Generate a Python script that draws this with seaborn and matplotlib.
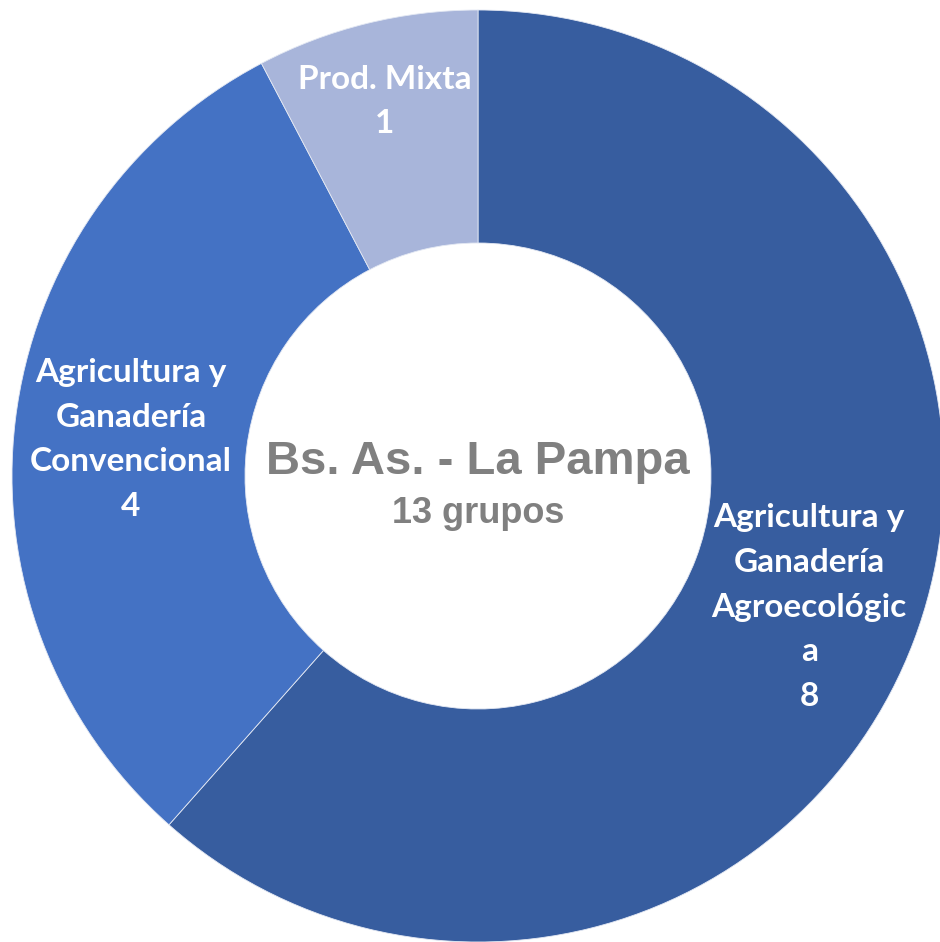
import numpy as np
import matplotlib
matplotlib.use("Agg")
import matplotlib.pyplot as plt
import seaborn as sns

# data
categories = ["Agricultura y\nGanadería\nAgroecológic\na", "Agricultura y\nGanadería\nConvencional", "Prod. Mixta"]
values = [8, 4, 1]
colors = ["#375D9F", "#4472C4", "#A8B5DA"]
label_radius = [0.76, 0.75, 0.84]
center_title = "Bs. As. - La Pampa"
center_sub = "13 grupos"

sns.set_theme(style="white")
plt.rcParams["font.family"] = ["Lato", "DejaVu Sans"]

fig = plt.figure(figsize=(9.40, 9.42), dpi=100)
ax = fig.add_axes([0, 0, 1, 1])

wedges, _ = ax.pie(values, colors=colors, startangle=90, counterclock=False,
                   radius=1.0, wedgeprops=dict(width=0.5, edgecolor="#E3E8F3", linewidth=0.6))

# labels at middle of each wedge (small downward nudge for the text block)
total = sum(values)
start = 90.0
for cat, v, r in zip(categories, values, label_radius):
    mid = np.deg2rad(start - v / total * 180.0)
    start -= v / total * 360.0
    ax.text(r * np.cos(mid), r * np.sin(mid) - 0.012, f"{cat}\n{v}", ha="center", va="center",
            color="white", fontsize=24, fontweight="bold", linespacing=1.65)

ax.text(0, 0.03, center_title, ha="center", va="center", color="#808080",
        fontsize=34, fontweight="bold", family=["Liberation Sans", "DejaVu Sans"])
ax.text(0, -0.08, center_sub, ha="center", va="center", color="#808080",
        fontsize=26, fontweight="bold", family=["Liberation Sans", "DejaVu Sans"])

ax.set_aspect("equal")
ax.set_xlim(-478 / 466, (940 - 478) / 466)
ax.set_ylim(-(942 - 476) / 466, 476 / 466)
ax.axis("off")

fig.savefig("out.png", dpi=100, facecolor="white")
